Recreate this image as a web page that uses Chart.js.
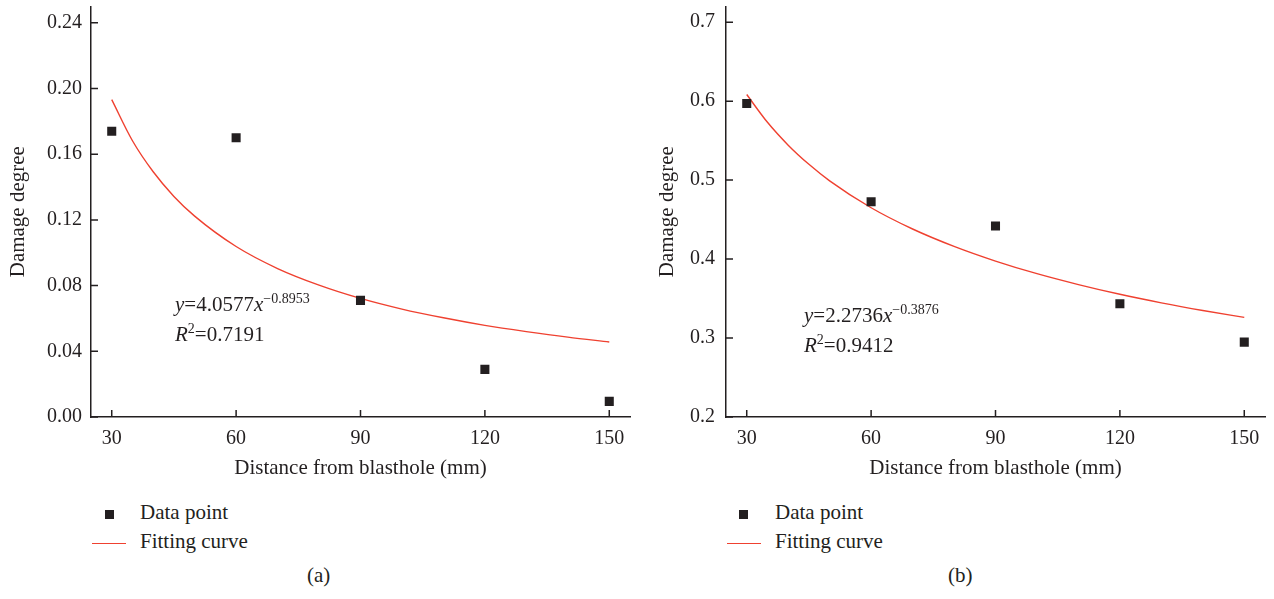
<!DOCTYPE html>
<html><head><meta charset="utf-8">
<script src="https://cdn.jsdelivr.net/npm/chart.js@4.4.1/dist/chart.umd.min.js"></script>
<style>
body{margin:0;background:#fff;width:1274px;height:599px;position:relative;overflow:hidden;font-family:"Liberation Serif","DejaVu Serif",serif;color:#231f20;}
canvas{position:absolute;top:0;}
.t{position:absolute;font-size:21px;line-height:21px;white-space:nowrap;}
.t i{font-style:italic;}
.t sup{font-size:14px;position:relative;top:-2px;vertical-align:top;line-height:14px;}
.sq{position:absolute;width:9px;height:9px;background:#231f20;}
.ln{position:absolute;height:1px;background:#ef4130;}
</style></head>
<body>
<canvas id="ca" width="640" height="490" style="left:0"></canvas>
<canvas id="cb" width="634" height="490" style="left:640px"></canvas>

<div class="t" style="left:175px;top:294px"><i>y</i>=4.0577<i>x</i><sup>−0.8953</sup></div>
<div class="t" style="left:175px;top:324px"><i>R</i><sup>2</sup>=0.7191</div>
<div class="t" style="left:804px;top:305px"><i>y</i>=2.2736<i>x</i><sup>−0.3876</sup></div>
<div class="t" style="left:804px;top:335px"><i>R</i><sup>2</sup>=0.9412</div>

<div class="sq" style="left:105px;top:510px"></div>
<div class="t" id="la1" style="left:140px;top:502px"></div>
<div class="ln" style="left:92px;top:543px;width:34px"></div>
<div class="t" id="la2" style="left:140px;top:531px"></div>
<div class="t" style="left:307px;top:565px">(a)</div>

<div class="sq" style="left:739px;top:510px"></div>
<div class="t" id="lb1" style="left:775px;top:502px"></div>
<div class="ln" style="left:727px;top:543px;width:34px"></div>
<div class="t" id="lb2" style="left:775px;top:531px"></div>
<div class="t" style="left:948px;top:565px">(b)</div>

<script>
const distances = [30, 60, 90, 120, 150];
const damageA = [0.174, 0.170, 0.0710, 0.0290, 0.0095];
const damageB = [0.597, 0.4725, 0.442, 0.3434, 0.2948];
const fitX = [30, 35, 40, 45, 50, 60, 70, 80, 90, 100, 110, 120, 130, 140, 150];
const fitA = [0.1932, 0.1682, 0.1493, 0.1343, 0.1223, 0.1038, 0.0904, 0.0803, 0.0722, 0.0657, 0.0604, 0.0558, 0.0520, 0.0486, 0.0457];
const fitB = [0.6084, 0.5732, 0.5443, 0.5200, 0.4991, 0.4650, 0.4381, 0.4161, 0.3975, 0.3815, 0.3677, 0.3554, 0.3446, 0.3349, 0.3261];
const xTicks = [30, 60, 90, 120, 150];
const yTicksA = [0, 0.04, 0.08, 0.12, 0.16, 0.20, 0.24];
const yTicksB = [0.2, 0.3, 0.4, 0.5, 0.6, 0.7];
const seriesNames = ['Data point', 'Fitting curve'];
const xTitle = 'Distance from blasthole (mm)';
const yTitle = 'Damage degree';

document.getElementById('la1').textContent = seriesNames[0];
document.getElementById('la2').textContent = seriesNames[1];
document.getElementById('lb1').textContent = seriesNames[0];
document.getElementById('lb2').textContent = seriesNames[1];

const INK = '#231f20';
const FONT = {family: '"Liberation Serif","DejaVu Serif",serif', size: 20};
const TFONT = {family: '"Liberation Serif","DejaVu Serif",serif', size: 21};

const inwardTicks = {
  id: 'inwardTicks',
  afterDraw(chart) {
    const {ctx, chartArea: a, scales: {x, y}} = chart;
    ctx.save();
    ctx.strokeStyle = INK; ctx.lineWidth = 1.5;
    ctx.beginPath();
    x.ticks.forEach(t => { const px = x.getPixelForValue(t.value); ctx.moveTo(px, a.bottom); ctx.lineTo(px, a.bottom - 7); });
    y.ticks.forEach(t => { const py = y.getPixelForValue(t.value); ctx.moveTo(a.left, py); ctx.lineTo(a.left + 7, py); });
    ctx.stroke();
    ctx.restore();
  }
};

function makeChart(id, pts, fit, yTicks, ymin, ymax, dec, o) {
  new Chart(document.getElementById(id), {
    type: 'scatter',
    data: {
      datasets: [
        {label: seriesNames[0], data: distances.map((d, i) => ({x: d, y: pts[i]})),
         pointStyle: 'rect', pointRadius: 6.4, pointHoverRadius: 6.4, backgroundColor: INK, borderColor: INK, borderWidth: 0, order: 0},
        {label: seriesNames[1], data: fitX.map((d, i) => ({x: d, y: fit[i]})),
         showLine: true, pointRadius: 0, borderColor: '#ef4130', borderWidth: 1.4, tension: 0.4, cubicInterpolationMode: 'monotone', order: 1}
      ]
    },
    options: {
      responsive: false, animation: false, devicePixelRatio: 1,
      layout: {padding: {top: 3, right: o.right, left: 0, bottom: 0}},
      plugins: {legend: {display: false}, tooltip: {enabled: false}},
      scales: {
        x: {
          type: 'linear', min: 25, max: 155,
          afterBuildTicks: s => { s.ticks = xTicks.map(v => ({value: v})); },
          afterFit: s => { s.height = 73; s.paddingLeft = 0; s.paddingRight = 0; },
          grid: {display: false, drawTicks: false},
          border: {display: true, color: INK, width: 1.5},
          ticks: {color: INK, font: FONT, padding: 9.5, maxRotation: 0, callback: v => String(v)},
          title: {display: true, text: xTitle, color: INK, font: TFONT, padding: {top: 0, bottom: 8.5}}
        },
        y: {
          type: 'linear', min: ymin, max: ymax,
          afterBuildTicks: s => { s.ticks = yTicks.map(v => ({value: v})); },
          afterFit: s => { s.width = o.left; s.paddingTop = 0; s.paddingBottom = 0; },
          grid: {display: false, drawTicks: false},
          border: {display: true, color: INK, width: 1.5},
          ticks: {color: INK, font: FONT, padding: o.tpad, callback: v => Number(v).toFixed(dec)},
          title: {display: true, text: yTitle, color: INK, font: TFONT, padding: {top: o.ttl, bottom: 0}}
        }
      }
    },
    plugins: [inwardTicks]
  });
}

makeChart('ca', damageA, fitA, yTicksA, 0, 0.25, 2, {left: 91, right: 10, tpad: 9, ttl: 6});
makeChart('cb', damageB, fitB, yTicksB, 0.2, 0.72, 1, {left: 86, right: 9, tpad: 11, ttl: 15});
</script>
</body></html>
